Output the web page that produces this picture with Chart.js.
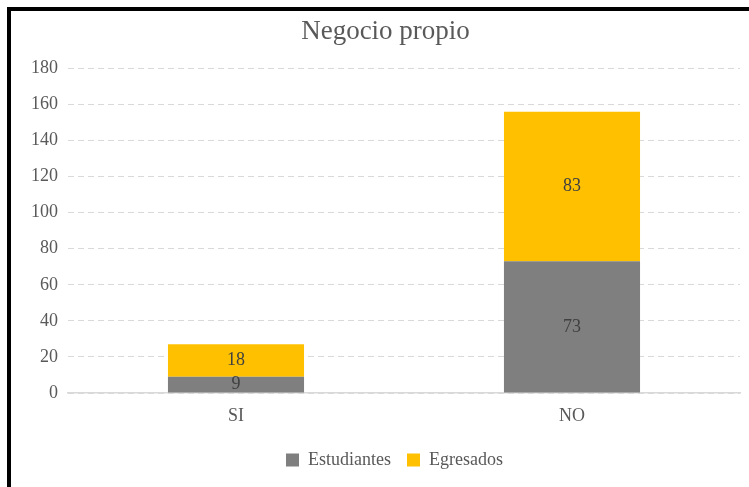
<!DOCTYPE html>
<html>
<head>
<meta charset="utf-8">
<script src="https://cdn.jsdelivr.net/npm/chart.js@4"></script>
<style>
  html, body { margin: 0; padding: 0; background: #fff; }
  .frame {
    position: absolute; left: 7px; top: 7px;
    width: 742px; height: 480px;
    border-left: 4px solid #000; border-top: 4px solid #000;
  }
  .frame canvas { display: block; }
</style>
</head>
<body>
<div class="frame"><canvas id="chart" width="738" height="476"></canvas></div>
<script>
// data
const categories = ["SI", "NO"];
const estudiantes = [9, 73];
const egresados = [18, 83];

const FONT = "'Liberation Serif', 'Times New Roman', serif";

// draws the value in the middle of each stacked segment
const segmentLabels = {
  id: "segmentLabels",
  afterDatasetsDraw(chart) {
    const ctx = chart.ctx;
    ctx.save();
    ctx.font = "18px " + FONT;
    ctx.fillStyle = "#404040";
    ctx.textAlign = "center";
    ctx.textBaseline = "middle";
    chart.data.datasets.forEach((ds, i) => {
      const meta = chart.getDatasetMeta(i);
      meta.data.forEach((bar, j) => {
        const { x, y, base } = bar.getProps(["x", "y", "base"], true);
        ctx.fillText(String(ds.data[j]), x, (y + base) / 2);
      });
    });
    ctx.restore();
  },
};

// the original has title and legend sitting a bit right of the canvas centre
const nudgeBlocks = {
  id: "nudgeBlocks",
  afterLayout(chart) {
    if (chart.titleBlock) {
      chart.titleBlock.left += 10;
      chart.titleBlock.right += 10;
    }
    if (chart.legend) {
      chart.legend.left += 19;
      chart.legend.right += 19;
    }
  },
};

new Chart(document.getElementById("chart"), {
  type: "bar",
  data: {
    labels: categories,
    datasets: [
      {
        label: "Estudiantes",
        data: estudiantes,
        backgroundColor: "#7f7f7f",
      },
      {
        label: "Egresados",
        data: egresados,
        backgroundColor: "#ffc000",
      },
    ],
  },
  options: {
    responsive: false,
    animation: false,
    layout: { padding: { left: 0, right: 9, top: 0, bottom: 8 } },
    datasets: {
      bar: { categoryPercentage: 1, barPercentage: 0.405 },
    },
    plugins: {
      title: {
        display: true,
        text: "Negocio propio",
        color: "#595959",
        font: { family: FONT, size: 27, weight: "normal" },
        padding: { top: 5, bottom: 20 },
      },
      legend: {
        position: "bottom",
        labels: {
          color: "#595959",
          font: { family: FONT, size: 18 },
          boxWidth: 13,
          boxHeight: 13,
          padding: 16,
        },
      },
      tooltip: { enabled: false },
    },
    scales: {
      x: {
        stacked: true,
        grid: { display: false, drawTicks: false },
        border: { display: true, color: "#d9d9d9", width: 1.5 },
        ticks: {
          color: "#595959",
          font: { family: FONT, size: 18 },
          padding: 12,
        },
        afterFit: (scale) => { scale.height = 42; },
      },
      y: {
        stacked: true,
        min: 0,
        max: 180,
        ticks: {
          stepSize: 20,
          color: "#595959",
          font: { family: FONT, size: 18 },
          padding: 10,
        },
        grid: { color: "#d9d9d9", lineWidth: 1, drawTicks: false },
        border: { display: false, dash: [6, 4] },
        afterFit: (scale) => { scale.width = 57; },
      },
    },
  },
  plugins: [segmentLabels, nudgeBlocks],
});
</script>
</body>
</html>
